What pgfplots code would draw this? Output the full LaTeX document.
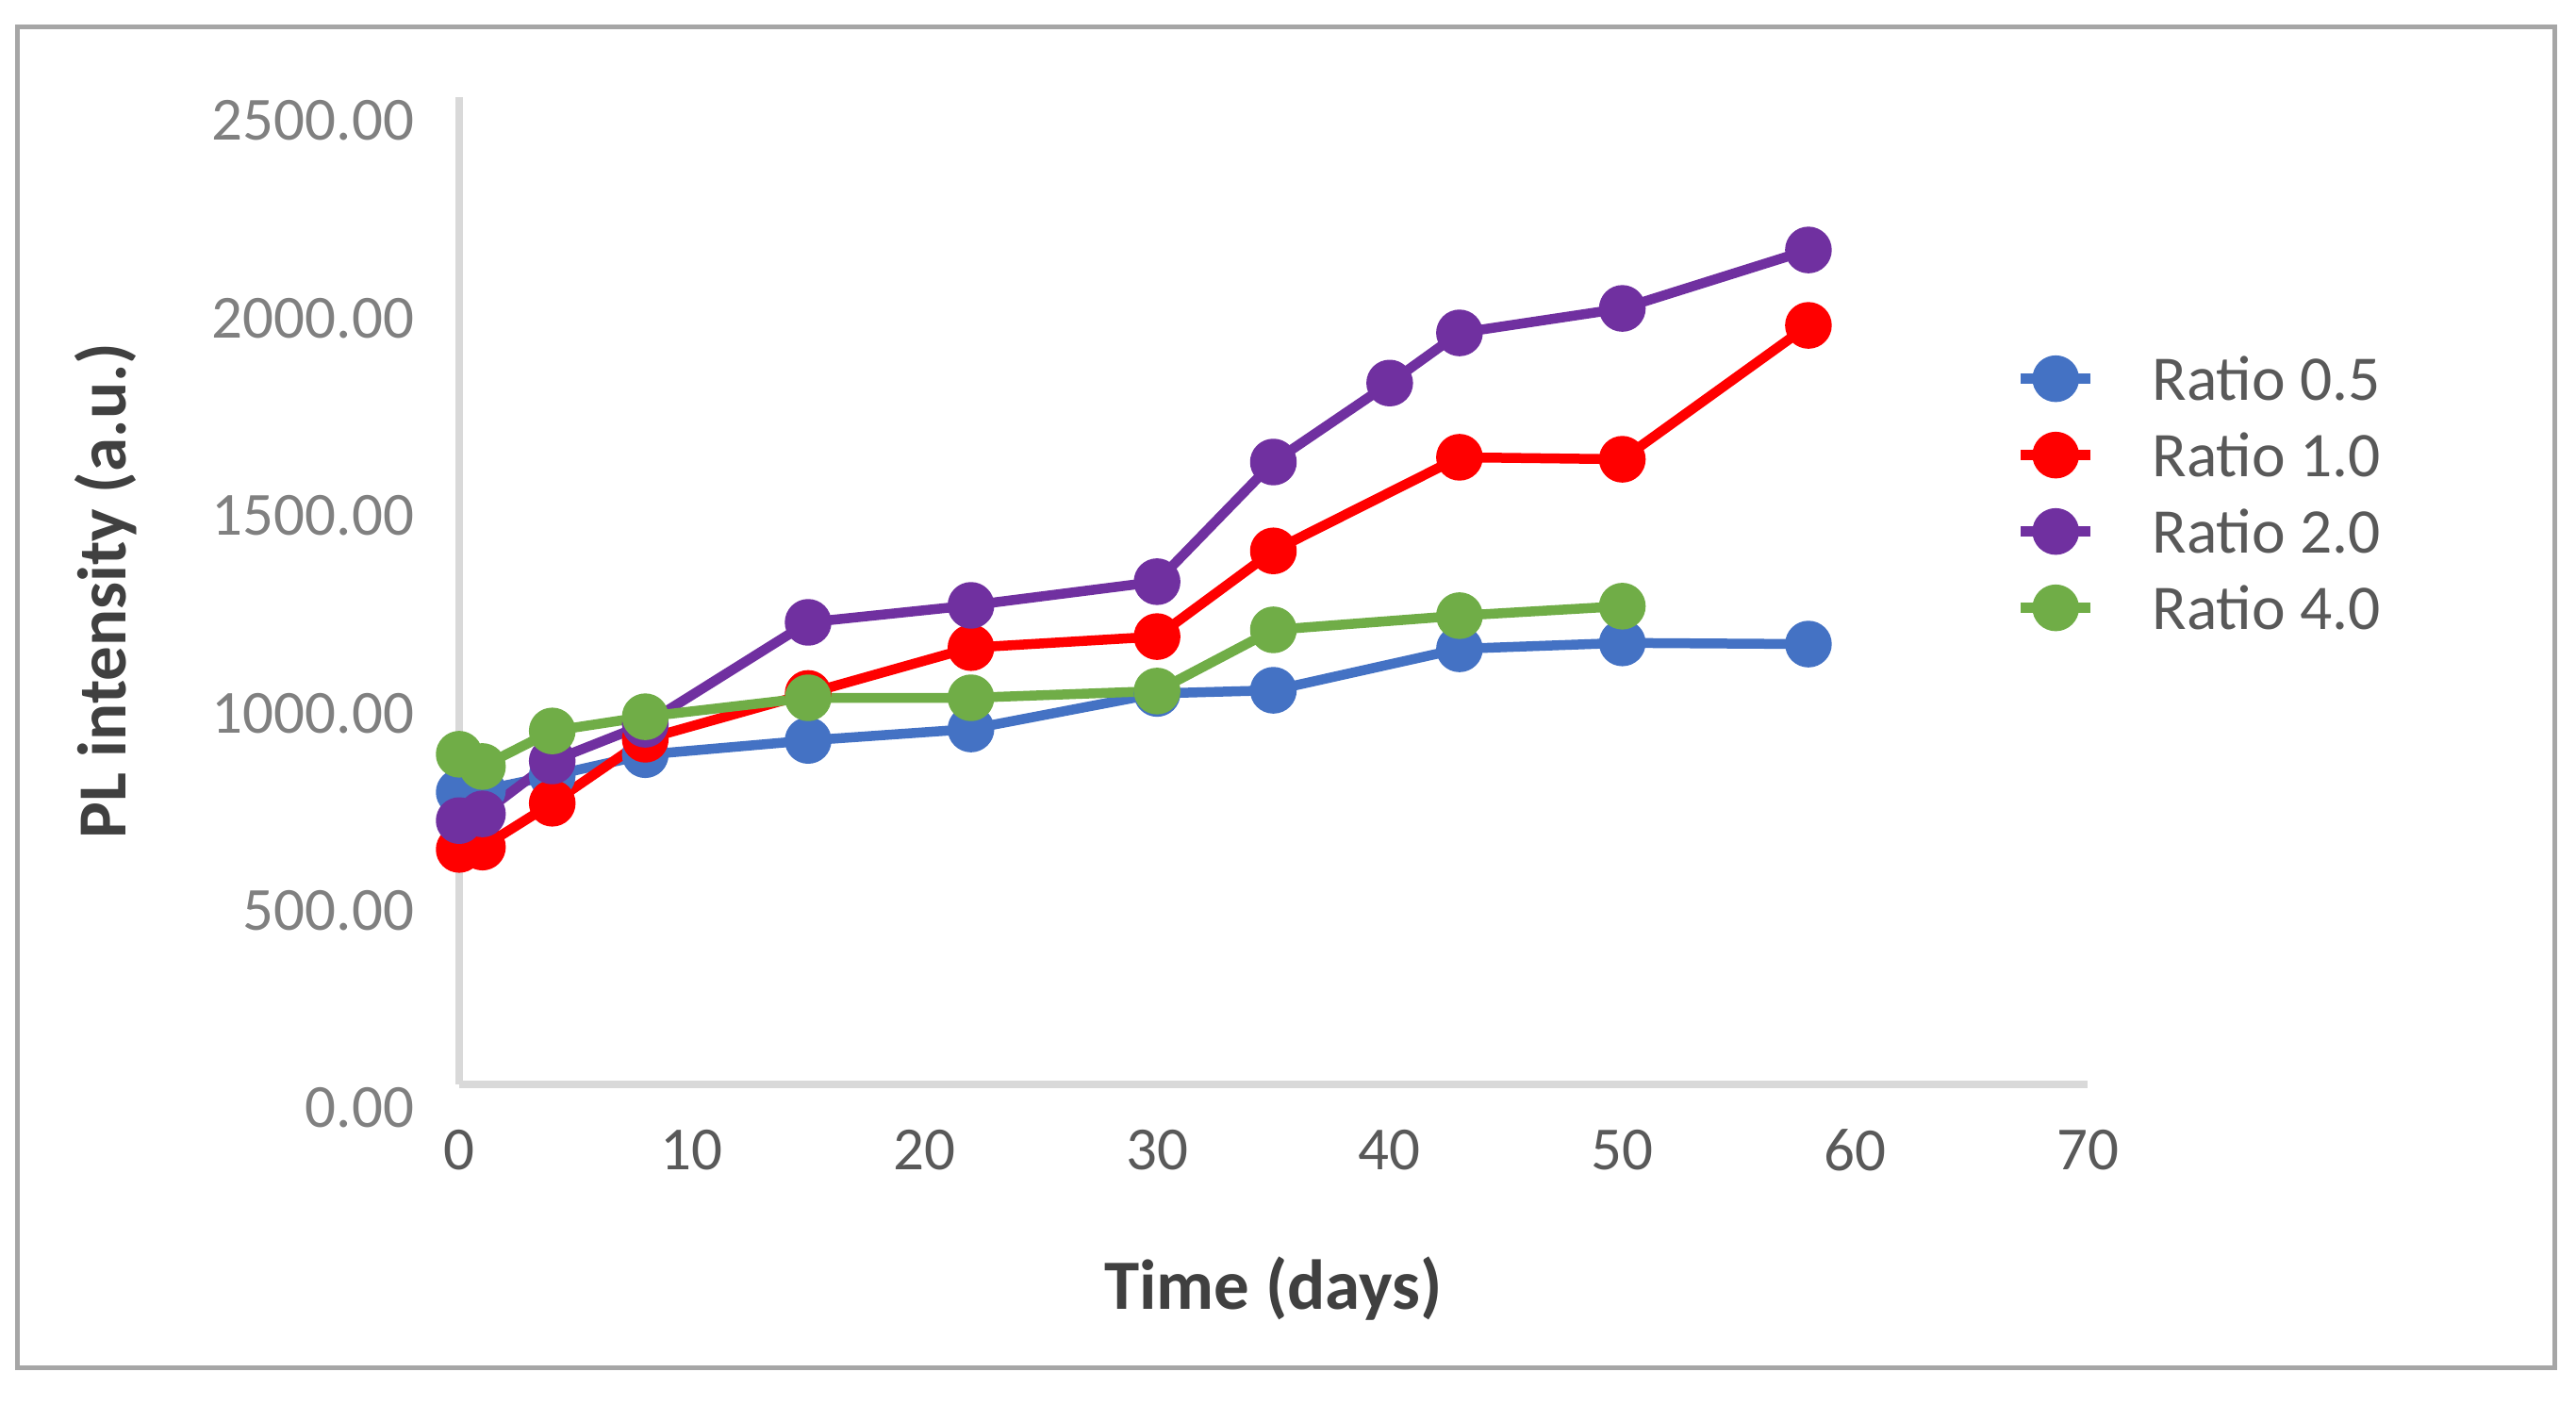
\documentclass[border=0pt]{standalone}
\usepackage{fontspec}
\setmainfont{Carlito}
\usepackage{pgfplots}
\pgfplotsset{compat=1.18}
\definecolor{cblue}{HTML}{4472C4}
\definecolor{cred}{HTML}{FF0000}
\definecolor{cpurple}{HTML}{7030A0}
\definecolor{cgreen}{HTML}{70AD47}
\definecolor{framegray}{HTML}{A6A6A6}
\definecolor{axgray}{HTML}{D9D9D9}
\definecolor{ytickc}{HTML}{808080}
\definecolor{xtickc}{HTML}{595959}
\definecolor{titlegray}{HTML}{404040}
\begin{document}
\begin{tikzpicture}
\path (0,0) rectangle (546.4pt,297.8pt);
\draw[framegray, line width=1pt] (3.6pt,7.8pt) rectangle (541.8pt,292pt);
\begin{axis}[
  at={(97.4pt,67.8pt)}, anchor=south west,
  scale only axis, width=345.4pt, height=209.4pt,
  xmin=0, xmax=70, ymin=0, ymax=2500,
  xtick={0,10,...,70}, ytick={0,500,...,2500},
  axis x line=bottom, axis y line=left,
  axis line style={-, draw=axgray, line width=1.6pt},
  major tick length=0pt,
  clip=false,
  /pgf/number format/assume math mode=true,
  yticklabel style={/pgf/number format/fixed, /pgf/number format/fixed zerofill, /pgf/number format/precision=2, /pgf/number format/1000 sep={}, font=\fontsize{13}{15}\selectfont, text=ytickc, anchor=east, inner sep=0pt, xshift=-9.4pt, yshift=-5pt},
  xticklabel style={font=\fontsize{13}{15}\selectfont, text=xtickc, anchor=north, inner sep=0pt, yshift=-9.4pt},
  xlabel={Time (days)},
  xlabel style={at={(axis description cs:0.5,-0.207)}, anchor=center, font=\bfseries\fontsize{15}{17}\selectfont, text=titlegray},
  ylabel={PL intensity (a.u.)},
  ylabel style={at={(axis description cs:-0.217,0.5)}, anchor=center, font=\bfseries\fontsize{14.6}{17}\selectfont, text=titlegray},
  legend style={at={(axis description cs:0.956,0.737)}, anchor=north west, draw=none, fill=none, inner sep=0pt, outer sep=0pt, row sep=6.9pt, column sep=12pt, font=\fontsize{13.5}{15}\selectfont, text=xtickc, nodes={inner sep=0pt, text height=9.3pt, text depth=0pt}},
  legend cell align=left,
  legend image code/.code={\draw[mark repeat=2,mark phase=2] plot coordinates {(0cm,0cm) (0.26cm,0cm) (0.52cm,0cm)};},
  every axis plot/.append style={line width=2.1pt, mark=*, mark size=3.9pt, mark options={solid}, line join=round},
]
\addplot[cblue] coordinates {(0,740) (1,745) (4,782) (8,835) (15,871) (22,900) (30,990) (35,998) (43,1103) (50,1118) (58,1115)};
\addlegendentry{Ratio 0.5}
\addplot[cred] coordinates {(0,595) (1,601) (4,712) (8,874) (15,990) (22,1106) (30,1134) (35,1351) (43,1588) (50,1583) (58,1922)};
\addlegendentry{Ratio 1.0}
\addplot[cpurple] coordinates {(0,668) (1,685) (4,819) (8,912) (15,1170) (22,1213) (30,1273) (35,1576) (40,1776) (43,1903) (50,1965) (58,2113)};
\addlegendentry{Ratio 2.0}
\addplot[cgreen] coordinates {(0,836) (1,805) (4,895) (8,931) (15,979) (22,979) (30,996) (35,1151) (43,1187) (50,1211)};
\addlegendentry{Ratio 4.0}
\end{axis}
\end{tikzpicture}
\end{document}
